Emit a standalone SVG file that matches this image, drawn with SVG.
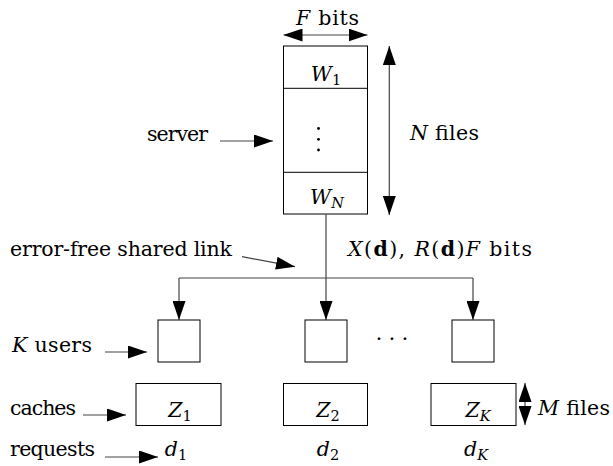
<svg xmlns="http://www.w3.org/2000/svg" width="613" height="466" viewBox="0 0 613 466">
<style>
.t{font-family:'DejaVu Serif',serif;font-size:20.5px;fill:#000}
.i{font-style:italic}
.b{font-weight:bold}
.s{font-size:14.5px}
.box{fill:#fff;stroke:#000;stroke-width:1}
.ln{fill:none;stroke:#444;stroke-width:1.2}
.ar{fill:none;stroke:#444;stroke-width:1.2;marker-end:url(#ah)}
.dar{fill:none;stroke:#444;stroke-width:1.2;marker-end:url(#ah);marker-start:url(#ah)}
</style>
<defs>
<marker id="ah" markerUnits="userSpaceOnUse" markerWidth="19" markerHeight="13" refX="19" refY="6.5" orient="auto-start-reverse">
<path d="M0,0 L19,6.5 L0,13 z" fill="#000"/>
</marker>
</defs>
<g id="server">
<rect class="box" x="283.5" y="46" width="84" height="168"/>
<line x1="283.5" y1="88.3" x2="367.5" y2="88.3" stroke="#000"/>
<line x1="283.5" y1="172.3" x2="367.5" y2="172.3" stroke="#000"/>
<text class="t" x="326" y="81" text-anchor="middle"><tspan class="i">W</tspan><tspan class="s" dy="4">1</tspan></text>
<circle cx="318.5" cy="128.5" r="1.4"/>
<circle cx="318.5" cy="139.3" r="1.4"/>
<circle cx="318.5" cy="150" r="1.4"/>
<text class="t" x="327" y="204" text-anchor="middle"><tspan class="i">W</tspan><tspan class="i s" dy="4">N</tspan></text>
</g>
<g id="labels">
<text class="t" x="296" y="25" textLength="63"><tspan class="i">F</tspan> bits</text>
<text class="t" x="410" y="140" textLength="69"><tspan class="i">N</tspan> files</text>
<text class="t" x="147" y="141" textLength="61">server</text>
<text class="t" x="10" y="256" textLength="222">error-free shared link</text>
<text class="t" x="348" y="256" textLength="184"><tspan class="i">X</tspan>(<tspan class="b">d</tspan>), <tspan class="i">R</tspan>(<tspan class="b">d</tspan>)<tspan class="i">F</tspan> bits</text>
<text class="t" x="12" y="352" textLength="80"><tspan class="i">K</tspan> users</text>
<text class="t" x="10" y="415" textLength="66">caches</text>
<text class="t" x="10" y="456" textLength="85">requests</text>
<text class="t" x="538" y="415" textLength="72"><tspan class="i">M</tspan> files</text>
<text class="t" x="392" y="346" text-anchor="middle">· · ·</text>
</g>
<g id="user1">
<rect class="box" x="158" y="320" width="42" height="42"/>
</g>
<g id="user2">
<rect class="box" x="305" y="320" width="42" height="42"/>
</g>
<g id="userK">
<rect class="box" x="452" y="320" width="42" height="42"/>
</g>
<g id="cache1">
<rect class="box" x="136" y="383.5" width="85" height="42"/>
<text class="t" x="180" y="417" text-anchor="middle"><tspan class="i">Z</tspan><tspan class="s" dy="4">1</tspan></text>
</g>
<g id="cache2">
<rect class="box" x="283.5" y="383.5" width="84" height="42"/>
<text class="t" x="328" y="417" text-anchor="middle"><tspan class="i">Z</tspan><tspan class="s" dy="4">2</tspan></text>
</g>
<g id="cacheK">
<rect class="box" x="431" y="383.5" width="85" height="42"/>
<text class="t" x="478" y="417" text-anchor="middle"><tspan class="i">Z</tspan><tspan class="i s" dy="4">K</tspan></text>
</g>
<g id="requests">
<text class="t" x="176" y="456" text-anchor="middle"><tspan class="i">d</tspan><tspan class="s" dy="4">1</tspan></text>
<text class="t" x="328" y="456" text-anchor="middle"><tspan class="i">d</tspan><tspan class="s" dy="4">2</tspan></text>
<text class="t" x="476" y="456" text-anchor="middle"><tspan class="i">d</tspan><tspan class="i s" dy="4">K</tspan></text>
</g>
<g id="connectors">
<line class="dar" x1="283.5" y1="35" x2="367.5" y2="35"/>
<line class="dar" x1="389.3" y1="46" x2="389.3" y2="215"/>
<line class="ar" x1="220" y1="141" x2="273" y2="141"/>
<line class="ar" x1="242" y1="256.7" x2="295" y2="266.7"/>
<line class="ln" x1="326" y1="214" x2="326" y2="278"/>
<line class="ln" x1="179" y1="278" x2="473" y2="278"/>
<line class="ar" x1="179" y1="278" x2="179" y2="320"/>
<line class="ar" x1="326" y1="278" x2="326" y2="320"/>
<line class="ar" x1="473" y1="278" x2="473" y2="320"/>
<line class="ar" x1="105" y1="352" x2="147" y2="352"/>
<line class="ar" x1="83" y1="415" x2="126" y2="415"/>
<line class="ar" x1="105" y1="457" x2="158" y2="457"/>
<line class="dar" x1="525" y1="383" x2="525" y2="425"/>
</g>
</svg>
